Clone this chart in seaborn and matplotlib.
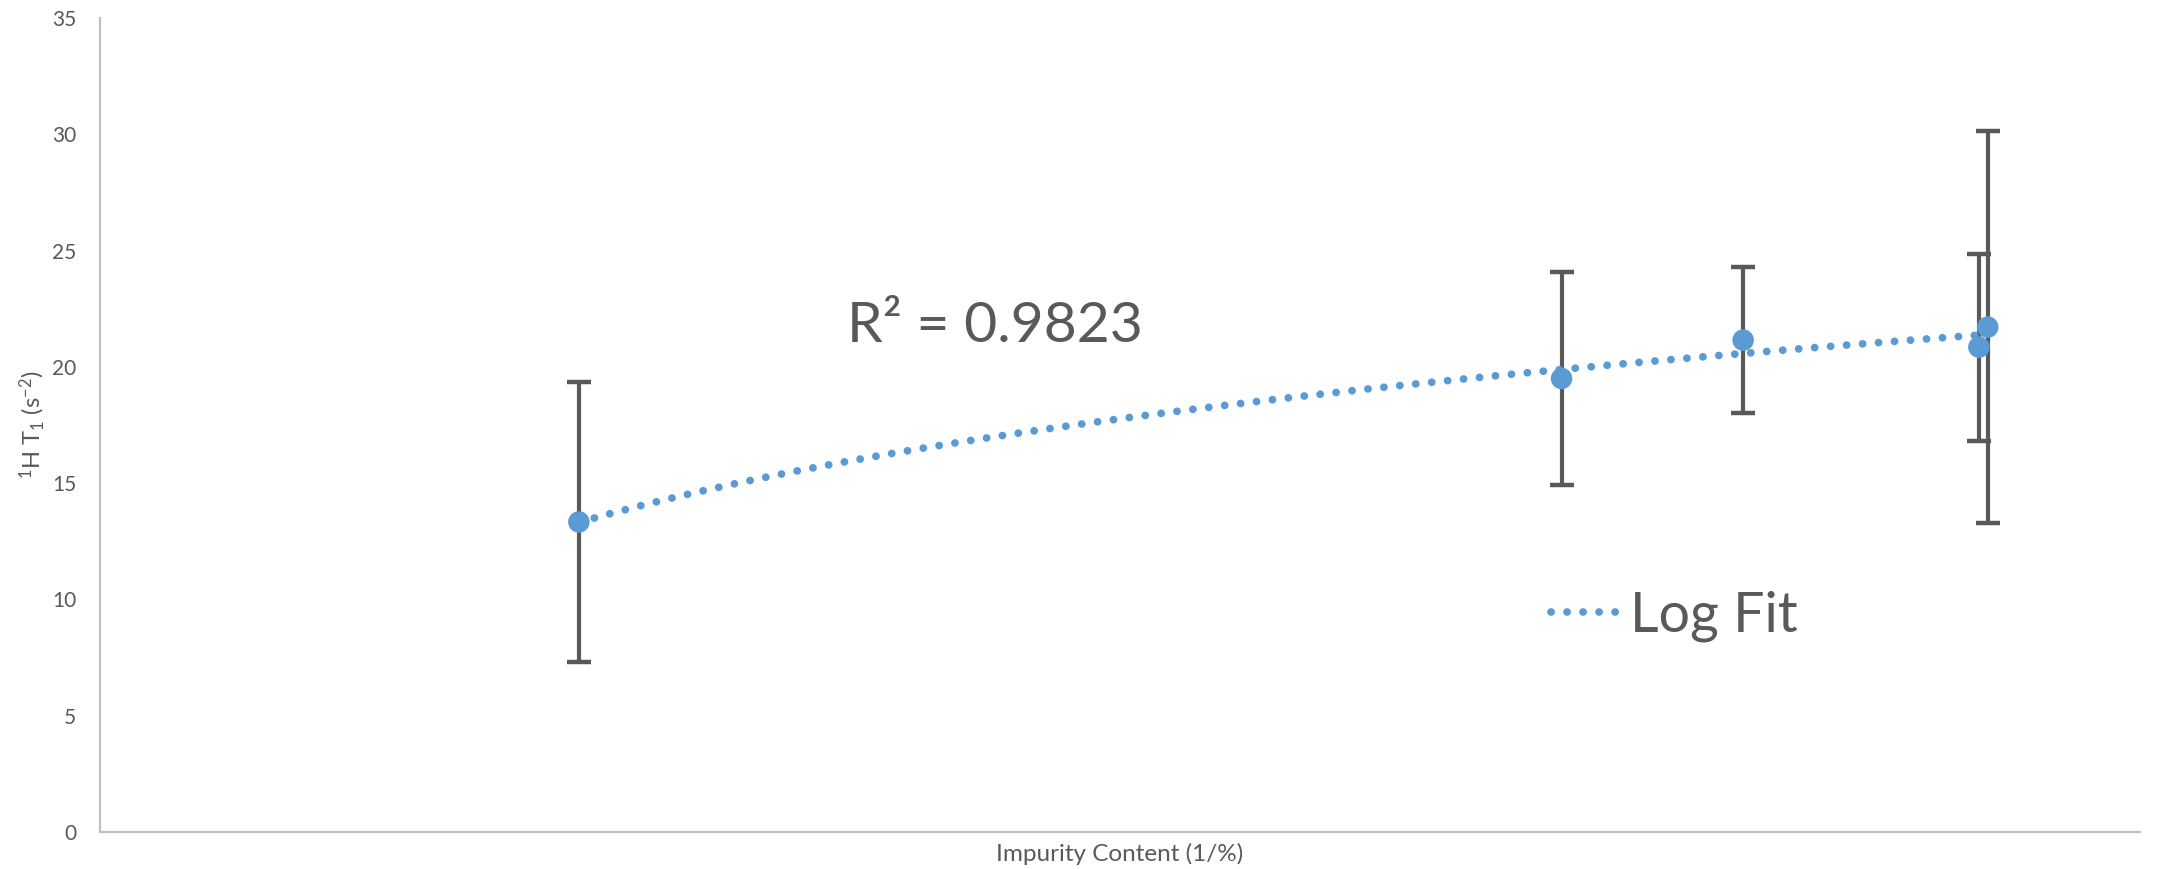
import numpy as np
import pandas as pd
import matplotlib
matplotlib.use("Agg")
import matplotlib.pyplot as plt
import seaborn as sns

# Measured relaxation times against inverse impurity content
impurity_inv = [3.27, 9.98, 11.22, 12.83, 12.89]
t1_values = [13.33, 19.50, 21.15, 20.85, 21.71]
t1_errors = [6.02, 4.58, 3.14, 4.02, 8.43]
r_squared_label = "0.9823"
y_ticks = [0, 5, 10, 15, 20, 25, 30, 35]

BLUE = "#5B9BD5"
DARK = "#595959"
AXIS_GREY = "#BFBFBF"

sns.set_theme(style="white")
plt.rcParams["font.family"] = ["Lato", "DejaVu Sans"]
plt.rcParams["mathtext.fontset"] = "custom"
plt.rcParams["mathtext.rm"] = "Lato"
plt.rcParams["mathtext.it"] = "Lato:italic"
plt.rcParams["mathtext.default"] = "regular"

df = pd.DataFrame({"x": impurity_inv, "y": t1_values, "err": t1_errors})

# Logarithmic trend line y = a ln(x) + b over the data range
a, b = np.polyfit(np.log(df["x"]), df["y"], 1)
xs = np.linspace(df["x"].min(), df["x"].max(), 300)
fit = pd.DataFrame({"x": xs, "y": a * np.log(xs) + b})

fig = plt.figure(figsize=(21.6, 8.69), dpi=100)
ax = fig.add_axes([100 / 2160, 1 - 832 / 869, 2040 / 2160, (832 - 18) / 869])

ax.errorbar(df["x"], df["y"], yerr=df["err"], fmt="none", ecolor=DARK,
            elinewidth=3.0, capsize=8.5, capthick=3.2, zorder=2)
sns.scatterplot(data=df, x="x", y="y", ax=ax, color=BLUE, s=15.5 ** 2,
                edgecolor="none", linewidth=0, zorder=3, legend=False)
sns.lineplot(data=fit, x="x", y="y", ax=ax, color=BLUE, linewidth=5.6,
             dashes=False, zorder=4, label="Log Fit", sort=False)
line = ax.get_lines()[-1]
line.set_linestyle((0, (0.01, 2.05)))
line.set_dash_capstyle("round")

ax.set_xlim(0, 13.93)
ax.set_ylim(0, 35)
ax.set_yticks(y_ticks)
ax.set_yticklabels([str(t) for t in y_ticks])
ax.set_xticks([])
ax.tick_params(axis="y", length=0, pad=17, labelsize=15, labelcolor=DARK)

for side in ("top", "right"):
    ax.spines[side].set_visible(False)
for side in ("left", "bottom"):
    ax.spines[side].set_color(AXIS_GREY)
    ax.spines[side].set_linewidth(1.6)

ax.set_xlabel("Impurity Content (1/%)", fontsize=17.5, color=DARK, labelpad=8)
ax.set_ylabel(r"$^{1}$H T$_{1}$ (s$^{-2}$)", fontsize=17, color=DARK, labelpad=4)

fig.text(847 / 2160, 1 - 327 / 869, "R\u00b2 = " + r_squared_label,
         fontsize=41, color=DARK, ha="left", va="center")

leg = ax.legend(loc="center left", bbox_to_anchor=(1551 / 2160, 1 - 616 / 869),
                bbox_transform=fig.transFigure, frameon=False, fontsize=40,
                handlelength=1.3, handletextpad=0.12, borderpad=0, borderaxespad=0)
for t in leg.get_texts():
    t.set_color(DARK)
for h in leg.get_lines():
    h.set_linestyle((0, (0.01, 2.05)))
    h.set_dash_capstyle("round")

fig.savefig("out.png", dpi=100)
